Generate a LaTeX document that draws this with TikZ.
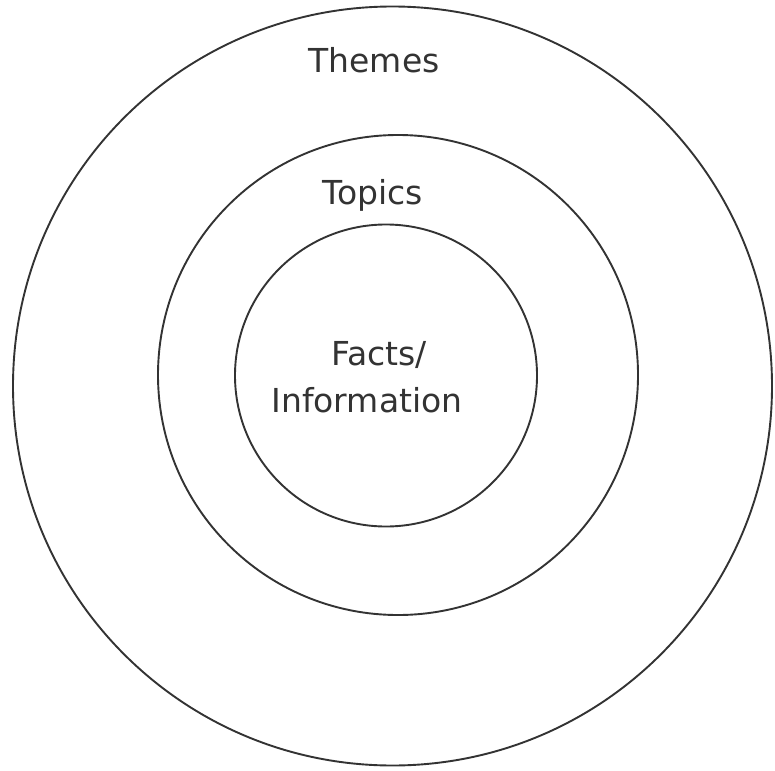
\documentclass[tikz,border=0pt]{standalone}
\usepackage{fontspec}
\setmainfont{DejaVu Sans}
\definecolor{ink}{HTML}{333333}
\begin{document}
\begin{tikzpicture}[x=1pt,y=-1pt,
  ring/.style={draw=ink,line width=1.9pt},
  lbl/.style={text=ink,font=\fontsize{33}{47}\selectfont,anchor=base,inner sep=0pt}]
\useasboundingbox (0,0) rectangle (775,770);
\draw[ring] (392.5,386) circle[radius=379.5];
\draw[ring] (398,375) circle[radius=240];
\draw[ring] (386,375.5) circle[radius=151];
\node[lbl] (themes) at (374,73) {Themes};
\node[lbl] (topics) at (373,204) {Topics};
\node[lbl] (facts) at (379,365) {Facts/};
\node[lbl] (info) at (367,412) {Information};
\end{tikzpicture}
\end{document}
